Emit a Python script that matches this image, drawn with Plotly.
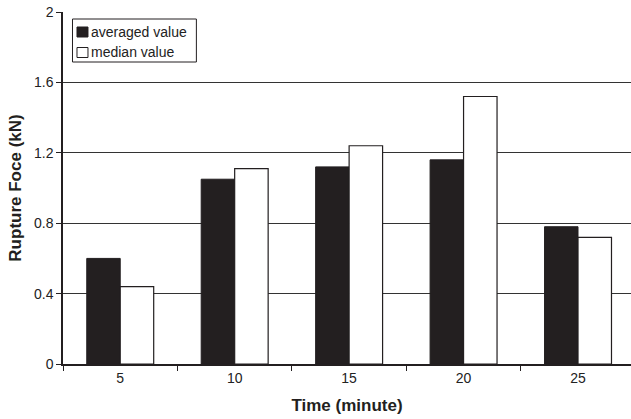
import plotly.graph_objects as go

categories = ["5", "10", "15", "20", "25"]
averaged_value = [0.60, 1.05, 1.12, 1.16, 0.78]
median_value = [0.44, 1.11, 1.24, 1.52, 0.72]
y_ticks = [0, 0.4, 0.8, 1.2, 1.6, 2]
y_tick_labels = ["0", "0.4", "0.8", "1.2", "1.6", "2"]
series_names = ["averaged value", "median value"]

DARK = "#231f20"
fig = go.Figure()
fig.add_trace(go.Bar(
    x=categories, y=averaged_value, name=series_names[0],
    marker=dict(color=DARK, line=dict(color=DARK, width=1)),
))
fig.add_trace(go.Bar(
    x=categories, y=median_value, name=series_names[1],
    marker=dict(color="white", line=dict(color=DARK, width=1.2)),
))

W, H = 631, 419
ML, MR, MT, MB = 62.5, 0, 12, 55
PW, PH = W - ML - MR, H - MT - MB


def px_x(p):
    return (p - ML) / PW


def px_y(p):
    return (H - MB - p) / PH


font = "Liberation Sans, Arial, sans-serif"

# manual legend (box, swatches, labels)
shapes = [
    dict(type="rect", xref="paper", yref="paper",
         x0=px_x(72), x1=px_x(196), y0=px_y(62), y1=px_y(19),
         line=dict(color=DARK, width=1), fillcolor="white", layer="above"),
    dict(type="rect", xref="paper", yref="paper",
         x0=px_x(76.5), x1=px_x(87.5), y0=px_y(37), y1=px_y(27),
         line=dict(color=DARK, width=1), fillcolor=DARK, layer="above"),
    dict(type="rect", xref="paper", yref="paper",
         x0=px_x(76.5), x1=px_x(87.5), y0=px_y(57.5), y1=px_y(47.5),
         line=dict(color=DARK, width=1), fillcolor="white", layer="above"),
]
annotations = [
    dict(xref="paper", yref="paper", x=px_x(89), y=px_y(31.5), text=series_names[0],
         showarrow=False, xanchor="left", yanchor="middle",
         font=dict(family=font, size=14, color="#222")),
    dict(xref="paper", yref="paper", x=px_x(89), y=px_y(52), text=series_names[1],
         showarrow=False, xanchor="left", yanchor="middle",
         font=dict(family=font, size=14, color="#222")),
]

fig.update_layout(
    width=W, height=H,
    margin=dict(l=ML, r=MR, t=MT, b=MB),
    paper_bgcolor="white", plot_bgcolor="white",
    barmode="group", bargap=0.415, bargroupgap=0,
    font=dict(family=font, size=14, color="#222"),
    showlegend=False,
    shapes=shapes, annotations=annotations,
)
fig.update_xaxes(
    type="category", categoryorder="array", categoryarray=categories,
    range=[-0.5, 4.463],
    tickson="boundaries", ticks="outside", ticklen=5, tickcolor=DARK,
    showline=True, linecolor=DARK, linewidth=1.5,
    showgrid=False, zeroline=False,
    tickfont=dict(size=14, color="#222"),
    title=dict(text="<b>Time (minute)</b>", font=dict(size=17, color=DARK), standoff=15),
)
fig.update_yaxes(
    range=[0, 2.0001],
    tickvals=y_ticks, ticktext=y_tick_labels,
    ticks="outside", ticklen=5, tickcolor=DARK,
    showline=True, linecolor=DARK, linewidth=1.5,
    showgrid=True, gridcolor="#333333", gridwidth=1,
    zeroline=False,
    tickfont=dict(size=14, color="#222"),
    title=dict(text="<b>Rupture Foce (kN)</b>", font=dict(size=17, color=DARK), standoff=8),
)

fig.write_html("out.html")
